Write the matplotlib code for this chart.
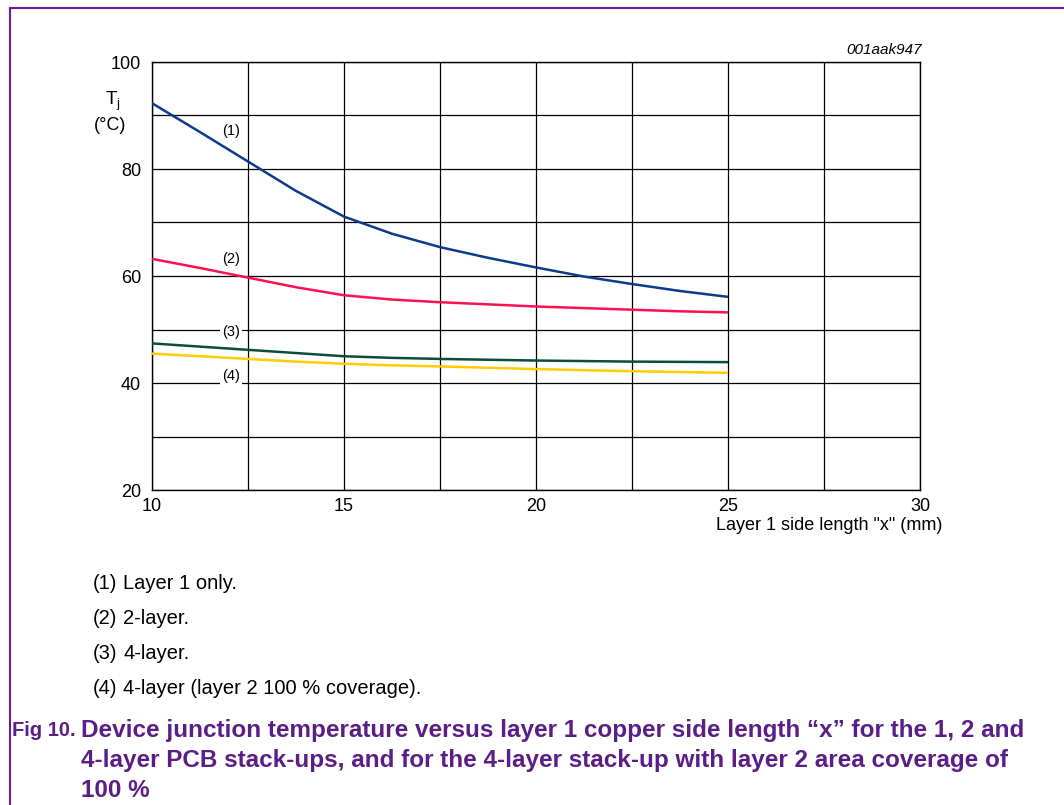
import matplotlib
matplotlib.use('Agg')
import matplotlib.pyplot as plt
from matplotlib.lines import Line2D

# fonts
plt.rcParams['font.family'] = ['Liberation Sans', 'DejaVu Sans']
plt.rcParams['mathtext.fontset'] = 'custom'
plt.rcParams['mathtext.rm'] = 'Liberation Sans'
plt.rcParams['mathtext.it'] = 'Liberation Sans:italic'

# data
side_mm = [10, 11.25, 12.5, 13.75, 15, 16.25, 17.5, 18.75, 20, 21.25, 22.5, 23.75, 25]
tj_layer1 = [92.3, 86.9, 81.4, 75.9, 71.1, 67.9, 65.4, 63.4, 61.6, 59.9, 58.5, 57.2, 56.1]
tj_2layer = [63.2, 61.5, 59.7, 57.9, 56.4, 55.6, 55.1, 54.7, 54.3, 54.0, 53.7, 53.4, 53.2]
tj_4layer = [47.4, 46.8, 46.2, 45.6, 45.0, 44.7, 44.5, 44.35, 44.2, 44.1, 44.0, 43.95, 43.9]
tj_4layer_full = [45.5, 45.0, 44.5, 44.0, 43.6, 43.3, 43.1, 42.85, 42.6, 42.4, 42.2, 42.05, 41.9]

series = [tj_layer1, tj_2layer, tj_4layer, tj_4layer_full]
colors = ['#0c3a8c', '#ff1150', '#0b4d3c', '#ffcc00']
curve_tags = ['(1)', '(2)', '(3)', '(4)']
tag_pos = [(12.05, 87.1), (12.05, 63.2), (12.05, 49.5), (12.05, 41.4)]

notes = ['Layer 1 only.', '2-layer.', '4-layer.', '4-layer (layer 2 100 % coverage).']
caption = ['Device junction temperature versus layer 1 copper side length \u201cx\u201d for the 1, 2 and',
           '4-layer PCB stack-ups, and for the 4-layer stack-up with layer 2 area coverage of',
           '100 %']

xticks = [10, 15, 20, 25, 30]
yticks = [20, 40, 60, 80, 100]

W, H = 1064, 805
fig = plt.figure(figsize=(W / 100, H / 100), dpi=100)
ax = fig.add_axes([152 / W, 1 - 490 / H, 768 / W, 428 / H])

for i, ys in enumerate(series):
    ax.plot(side_mm, ys, color=colors[i], lw=1.8, zorder=3,
            solid_capstyle='butt', solid_joinstyle='round')

ax.set_xlim(10, 30)
ax.set_ylim(20, 100)
ax.set_xticks(xticks)
ax.set_yticks(yticks)
ax.set_xticks([12.5, 17.5, 22.5, 27.5], minor=True)
ax.set_yticks([30, 50, 70, 90], minor=True)
ax.grid(True, which='both', color='black', lw=0.9, zorder=1)
ax.tick_params(which='both', length=0, labelsize=13)
ax.tick_params(axis='x', pad=6)
ax.tick_params(axis='y', pad=8)
for s in ax.spines.values():
    s.set_linewidth(1.0)

for tag, (tx, ty) in zip(curve_tags, tag_pos):
    ax.text(tx, ty, tag, fontsize=10.5, ha='center', va='center', zorder=4,
            bbox=dict(facecolor='white', edgecolor='none', pad=1.5))

# axis labels and figure id
fig.text(113 / W, 1 - 101 / H, r'T$_{\mathrm{j}}$', fontsize=13.5, ha='center', va='center')
fig.text(110 / W, 1 - 126 / H, '(\u00b0C)', fontsize=13, ha='center', va='center')
fig.text(942 / W, 1 - 525 / H, 'Layer 1 side length "x" (mm)', fontsize=13,
         ha='right', va='center')
fig.text(922 / W, 1 - 50 / H, '001aak947', fontsize=11, style='italic',
         ha='right', va='center')

# notes below the chart
for i, note in enumerate(notes):
    y = 1 - (583 + 35 * i) / H
    fig.text(93 / W, y, curve_tags[i], fontsize=14.5, va='center')
    fig.text(123 / W, y, note, fontsize=14.5, va='center')

# caption
purple = '#5b1e86'
fig.text(12 / W, 1 - 730 / H, 'Fig 10.', fontsize=14.5, fontweight='bold', color=purple,
         va='center')
for i, line in enumerate(caption):
    fig.text(81 / W, 1 - (730 + 30 * i) / H, line, fontsize=17.5, fontweight='bold',
             color=purple, va='center')

# frame lines
frame = '#6a1b9a'
fig.add_artist(Line2D([10 / W, 1], [1 - 8 / H, 1 - 8 / H], color=frame, lw=1.5))
fig.add_artist(Line2D([10 / W, 10 / W], [0, 1 - 8 / H], color=frame, lw=1.5))

fig.savefig('out.png', dpi=100)
